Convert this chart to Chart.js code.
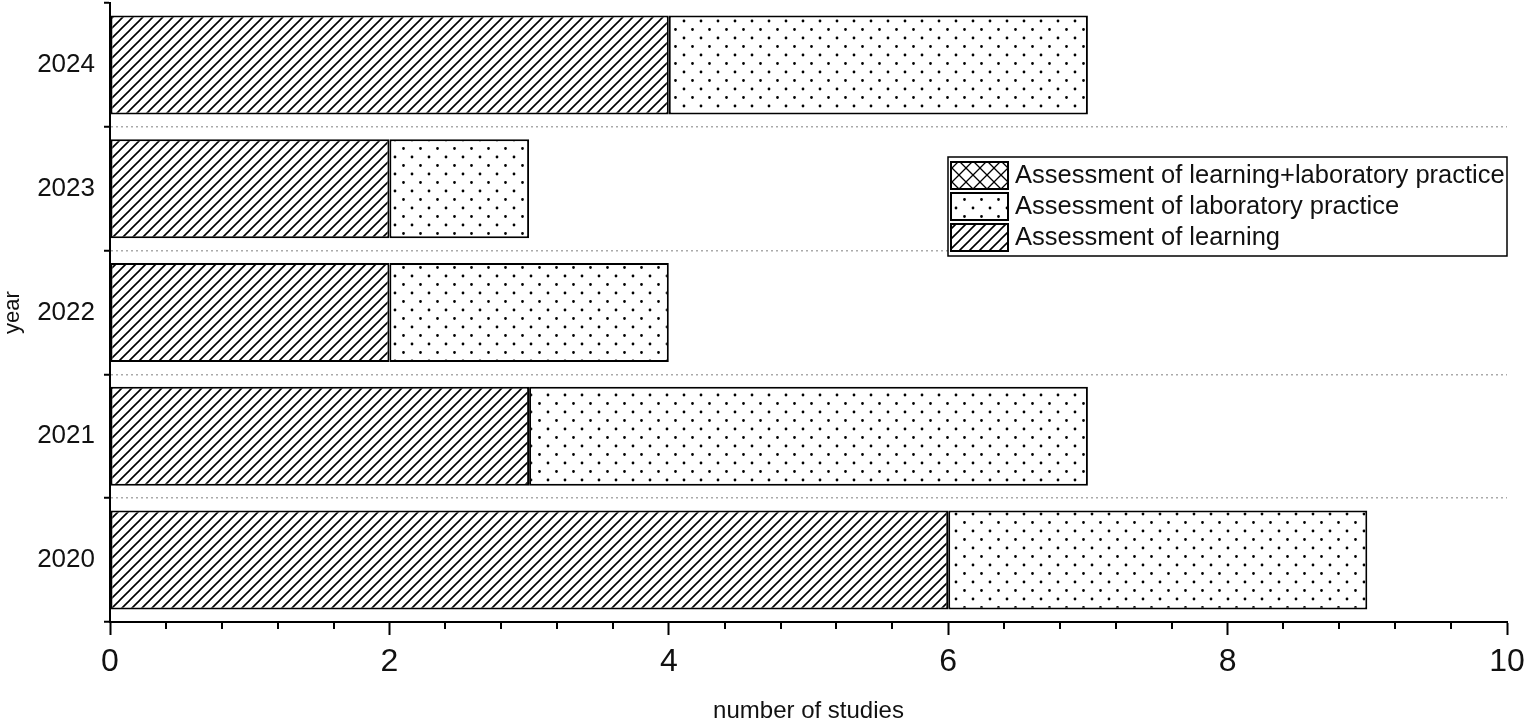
<!DOCTYPE html>
<html>
<head>
<meta charset="utf-8">
<script src="https://cdn.jsdelivr.net/npm/chart.js@4.4.1/dist/chart.umd.min.js"></script>
<style>
  html, body { margin: 0; padding: 0; background: #fff; }
  #wrap { width: 1536px; height: 728px; position: relative; }
</style>
</head>
<body>
<div id="wrap"><canvas id="chart"></canvas></div>
<script>
var years = ['2020', '2021', '2022', '2023', '2024'];
var learning = [6, 3, 2, 2, 4];
var labPractice = [3, 4, 2, 1, 3];
var learningLab = [0, 0, 0, 0, 0];
var seriesNames = [
    'Assessment of learning',
    'Assessment of laboratory practice',
    'Assessment of learning+laboratory practice'
];

var FONT = '"Liberation Sans", Arial, sans-serif';

function makeTile(w, h, draw) {
    var c = document.createElement('canvas');
    c.width = w;
    c.height = h;
    var g = c.getContext('2d');
    g.fillStyle = '#fff';
    g.fillRect(0, 0, w, h);
    draw(g, w, h);
    return g.createPattern(c, 'repeat');
}

// "/" hatch
var hatch = makeTile(10, 10, function(g, w, h) {
    g.strokeStyle = '#000';
    g.lineWidth = 1.6;
    g.beginPath();
    g.moveTo(-1, h + 1); g.lineTo(w + 1, -1);
    g.moveTo(-1, 1); g.lineTo(1, -1);
    g.moveTo(w - 1, h + 1); g.lineTo(w + 1, h - 1);
    g.stroke();
});

// staggered dots
var dots = makeTile(17, 17, function(g) {
    g.fillStyle = '#000';
    g.beginPath();
    g.arc(4, 4, 1.4, 0, Math.PI * 2);
    g.arc(12.5, 12.5, 1.4, 0, Math.PI * 2);
    g.fill();
});

// cross hatch
var cross = makeTile(14, 14, function(g, w, h) {
    g.strokeStyle = '#000';
    g.lineWidth = 1.3;
    g.beginPath();
    g.moveTo(0, h); g.lineTo(w, 0);
    g.moveTo(0, 0); g.lineTo(w, h);
    g.stroke();
});

// minor ticks on the x axis (every 0.4)
var minorTicks = {
    id: 'minorTicks',
    afterDraw: function(chart) {
        var x = chart.scales.x;
        var ctx = chart.ctx;
        ctx.save();
        ctx.strokeStyle = '#000';
        ctx.lineWidth = 2;
        ctx.beginPath();
        for (var i = 0; i <= 25; i++) {
            if (i % 5 === 0) continue;
            var px = Math.round(x.getPixelForValue(i * 0.4));
            ctx.moveTo(px, x.top);
            ctx.lineTo(px, x.top + 7);
        }
        ctx.stroke();
        ctx.restore();
    }
};

// boxed legend inside the plot
var boxLegend = {
    id: 'boxLegend',
    afterDraw: function(chart) {
        var ctx = chart.ctx;
        var area = chart.chartArea;
        var items = chart.data.datasets.slice().reverse();
        var bx = area.right - 559, by = 157, bw = 559, bh = 99;
        ctx.save();
        ctx.fillStyle = '#fff';
        ctx.fillRect(bx, by, bw, bh);
        ctx.strokeStyle = '#000';
        ctx.lineWidth = 1.5;
        ctx.strokeRect(bx, by, bw, bh);
        ctx.font = '25.5px ' + FONT;
        ctx.textBaseline = 'middle';
        items.forEach(function(ds, i) {
            var sy = by + 5 + i * 31;
            ctx.fillStyle = ds.backgroundColor;
            ctx.fillRect(bx + 3, sy, 57, 27);
            ctx.lineWidth = 2;
            ctx.strokeRect(bx + 3, sy, 57, 27);
            ctx.fillStyle = '#111';
            ctx.fillText(ds.label, bx + 67, sy + 14);
        });
        ctx.restore();
    }
};

var config = {
    type: 'bar',
    data: {
        labels: years,
        datasets: [{
            label: seriesNames[0],
            data: learning,
            backgroundColor: hatch
        }, {
            label: seriesNames[1],
            data: labPractice,
            backgroundColor: dots
        }, {
            label: seriesNames[2],
            data: learningLab,
            backgroundColor: cross
        }]
    },
    options: {
        indexAxis: 'y',
        responsive: true,
        maintainAspectRatio: false,
        animation: false,
        layout: {
            padding: { left: 0, right: 29, top: 3, bottom: 0 }
        },
        datasets: {
            bar: {
                borderColor: '#000',
                borderWidth: 2,
                borderSkipped: false,
                categoryPercentage: 0.8,
                barPercentage: 1
            }
        },
        scales: {
            x: {
                type: 'linear',
                stacked: true,
                min: 0,
                max: 10,
                ticks: {
                    stepSize: 2,
                    color: '#111',
                    padding: 8,
                    font: { family: FONT, size: 32 }
                },
                grid: {
                    drawOnChartArea: false,
                    tickLength: 13,
                    tickWidth: 2,
                    tickColor: '#000'
                },
                border: { color: '#000', width: 2 },
                title: {
                    display: true,
                    text: 'number of studies',
                    color: '#111',
                    font: { family: FONT, size: 24 },
                    padding: { top: 0, bottom: 2 }
                },
                afterFit: function(scale) {
                    scale.height = 106;
                    scale.paddingLeft = 0;
                    scale.paddingRight = 0;
                }
            },
            y: {
                type: 'category',
                stacked: true,
                reverse: true,
                ticks: {
                    color: '#111',
                    padding: 9,
                    font: { family: FONT, size: 26 }
                },
                grid: {
                    offset: true,
                    color: function(c) {
                        return (c.type !== 'tick' || c.index === 0) ? 'rgba(0,0,0,0)' : '#aaa';
                    },
                    lineWidth: 1.5,
                    tickLength: 6,
                    tickWidth: 2,
                    tickColor: '#000'
                },
                border: { color: '#000', width: 2, dash: [2, 3] },
                title: {
                    display: true,
                    text: 'year',
                    color: '#111',
                    font: { family: FONT, size: 22 },
                    padding: 0
                },
                afterFit: function(scale) {
                    scale.width = 110;
                    scale.paddingTop = 0;
                    scale.paddingBottom = 0;
                }
            }
        },
        plugins: {
            legend: { display: false },
            tooltip: { enabled: false },
            title: { display: false }
        }
    },
    plugins: [minorTicks, boxLegend]
};

function loadBarChart() {
    var ctx = document.getElementById('chart').getContext('2d');
    window.myBar = new Chart(ctx, config);
}
loadBarChart();
</script>
</body>
</html>
